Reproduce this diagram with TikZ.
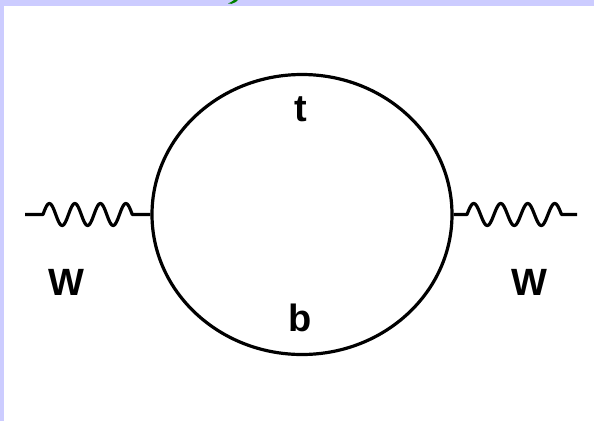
\documentclass[tikz,border=0pt]{standalone}
\usepackage{fontspec}
\setmainfont{Liberation Sans}
\usetikzlibrary{shapes.geometric}
\definecolor{lav}{RGB}{204,204,255}
\definecolor{titlegreen}{RGB}{0,128,0}
\begin{document}
\begin{tikzpicture}[x=1pt,y=-1pt,line width=3.2pt,
  lbl/.style={font=\fontsize{38}{40}\selectfont\bfseries, inner sep=0pt},
  wline/.style={line join=round}]
\useasboundingbox (0,0) rectangle (594,421);
\fill[white] (0,0) rectangle (594,421);
\fill[lav] (0,0) rectangle (594,6);
\fill[lav] (0,0) rectangle (3.5,421);
\fill[titlegreen] (228,3.5) -- (231,2) -- (234,0) -- (238,0) -- (235.5,2.2) -- (231.5,3.8) -- cycle;
\node[draw, ellipse, minimum width=300pt, minimum height=280pt, inner sep=0pt] (loop) at (302,214.5) {};
\coordinate (wl) at (25,214.5);
\coordinate (wr) at (577,214.5);
\draw[wline] (wl) -- (43,214.5)
  -- plot[domain=0:89.25, samples=120] ({43+\x},{214.5-11*sin(\x*14.1176)})
  -- (loop.west);
\draw[wline] (loop.east) -- (467,214.5)
  -- plot[domain=0:94.5, samples=120] ({467+\x},{214.5-11*sin(\x*13.3333)})
  -- (wr);
\node[lbl] (t) at (301,109) {t};
\node[lbl] (b) at (300,318) {b};
\node[lbl] (Wl) at (66,282) {W};
\node[lbl] (Wr) at (529,282) {W};
\end{tikzpicture}
\end{document}
